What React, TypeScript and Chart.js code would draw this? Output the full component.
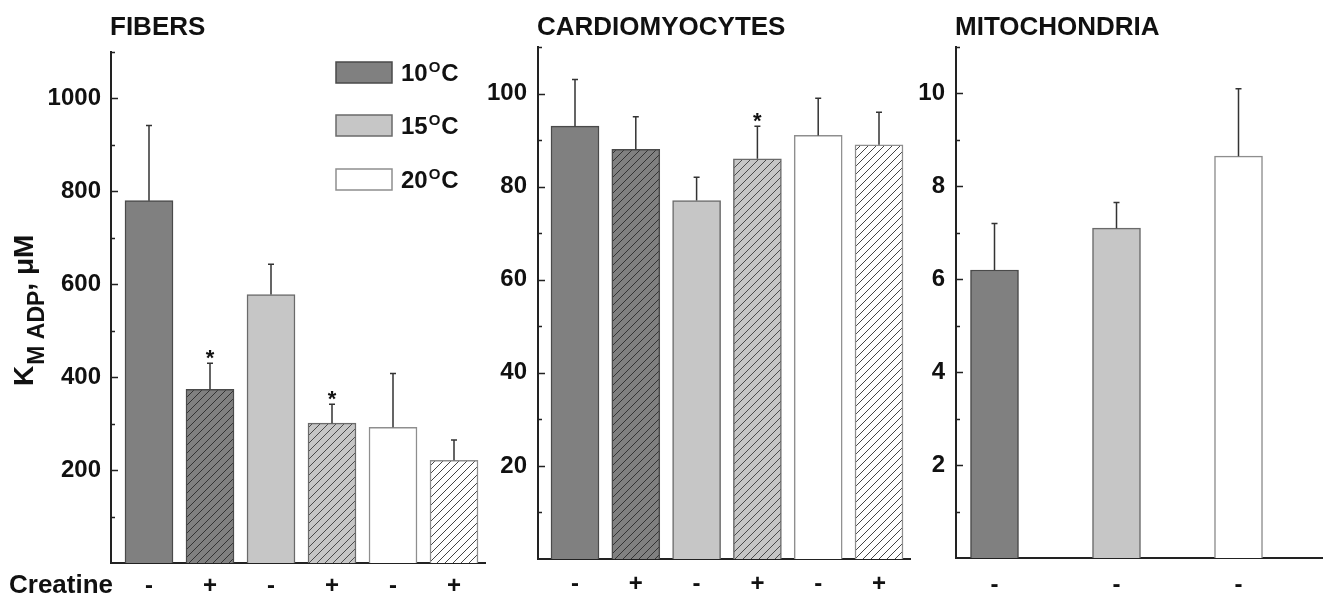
import React, { useEffect, useRef } from 'react';
import { Chart, registerables } from 'chart.js';

Chart.register(...registerables);

const FONT = "'Liberation Sans', Arial, Helvetica, sans-serif";
const INK = '#111111';

// ---------- DATA ----------
// Panel 1: fibers
const fibersCreatine = ['-', '+', '-', '+', '-', '+'];
const fibersTemps = ['10', '10', '15', '15', '20', '20'];
const fibersValues = [780, 374, 578, 301, 292, 221];
const fibersErrors = [162, 56, 65, 41, 116, 44];
const fibersStars = [false, true, false, true, false, false];
const fibersYTicks = [200, 400, 600, 800, 1000];

// Panel 2: cardiomyocytes
const cardioCreatine = ['-', '+', '-', '+', '-', '+'];
const cardioTemps = ['10', '10', '15', '15', '20', '20'];
const cardioValues = [93, 88, 77, 86, 91, 89];
const cardioErrors = [10, 7, 5, 7, 8, 7];
const cardioStars = [false, false, false, true, false, false];
const cardioYTicks = [20, 40, 60, 80, 100];

// Panel 3: mitochondria
const mitoCreatine = ['-', '-', '-'];
const mitoTemps = ['10', '15', '20'];
const mitoValues = [6.2, 7.1, 8.65];
const mitoErrors = [1.0, 0.55, 1.45];
const mitoStars = [false, false, false];
const mitoYTicks = [2, 4, 6, 8, 10];

// Legend
const legendTemps = ['10', '15', '20'];

// ---------- STYLE ----------
const baseFill: Record<string, string> = { '10': '#808080', '15': '#c6c6c6', '20': '#ffffff' };
const baseBorder: Record<string, string> = { '10': '#4a4a4a', '15': '#6a6a6a', '20': '#8e8e8e' };
const hatchLine: Record<string, string> = { '10': '#333333', '15': '#4a4a4a', '20': '#444444' };

function makeHatch(bg: string, line: string): CanvasPattern | string {
  const s = 8;
  const c = document.createElement('canvas');
  c.width = s;
  c.height = s;
  const g = c.getContext('2d');
  if (!g) return bg;
  g.fillStyle = bg;
  g.fillRect(0, 0, s, s);
  g.strokeStyle = line;
  g.lineWidth = 1;
  g.beginPath();
  g.moveTo(-1, s + 1);
  g.lineTo(s + 1, -1);
  g.moveTo(-1, 1);
  g.lineTo(1, -1);
  g.moveTo(s - 1, s + 1);
  g.lineTo(s + 1, s - 1);
  g.stroke();
  return g.createPattern(c, 'repeat') || bg;
}

type Layout = {
  canvasLeft: number;
  canvasWidth: number;
  yAxisWidth: number;
  top: number;
  xAxisHeight: number;
  padRight: number;
  xMin: number;
  xMax: number;
  xTickPad: number;
  yTickPad: number;
};

type PanelProps = {
  title: string;
  labels: string[];
  temps: string[];
  values: number[];
  errors: number[];
  stars: boolean[];
  yMax: number;
  yStep: number;
  yTicks: number[];
  layout: Layout;
  extras?: boolean;
};

function drawExtras(ctx: CanvasRenderingContext2D) {
  // Legend
  const boxX = 336;
  const boxW = 56;
  const boxH = 21;
  const rowTops = [62, 115, 169];
  legendTemps.forEach((t, i) => {
    const y = rowTops[i];
    ctx.fillStyle = baseFill[t];
    ctx.fillRect(boxX, y, boxW, boxH);
    ctx.strokeStyle = baseBorder[t];
    ctx.lineWidth = 1.5;
    ctx.strokeRect(boxX, y, boxW, boxH);
    const cy = y + boxH / 2;
    ctx.fillStyle = INK;
    ctx.textAlign = 'left';
    ctx.textBaseline = 'alphabetic';
    let x = 401;
    ctx.font = `bold 24px ${FONT}`;
    ctx.fillText(t, x, cy + 8.5);
    x += ctx.measureText(t).width + 1;
    ctx.font = `bold 15px ${FONT}`;
    ctx.fillText('O', x, cy - 1);
    x += ctx.measureText('O').width + 1;
    ctx.font = `bold 24px ${FONT}`;
    ctx.fillText('C', x, cy + 8.5);
  });

  // Y axis title: K_M ADP, μM (rotated)
  ctx.save();
  ctx.translate(33, 386);
  ctx.rotate(-Math.PI / 2);
  ctx.fillStyle = INK;
  ctx.textAlign = 'left';
  ctx.textBaseline = 'alphabetic';
  ctx.font = `bold 28px ${FONT}`;
  ctx.fillText('K', 0, 0);
  let px = ctx.measureText('K').width + 1;
  ctx.font = `bold 23px ${FONT}`;
  ctx.fillText('M ADP', px, 11);
  px += ctx.measureText('M ADP').width;
  ctx.font = `bold 28px ${FONT}`;
  ctx.fillText(', \u03bcM', px, 0);
  ctx.restore();

  // Creatine label
  ctx.fillStyle = INK;
  ctx.font = `bold 26px ${FONT}`;
  ctx.textAlign = 'left';
  ctx.textBaseline = 'alphabetic';
  ctx.fillText('Creatine', 9, 593);
}

function Panel(props: PanelProps) {
  const ref = useRef<HTMLCanvasElement | null>(null);
  useEffect(() => {
    const canvas = ref.current;
    if (!canvas) return;
    const { labels, temps, values, errors, stars, yMax, yStep, yTicks, layout, title, extras } = props;
    const fills = temps.map((t, i) =>
      labels[i] === '+' ? makeHatch(baseFill[t], hatchLine[t]) : baseFill[t]
    );
    const borders = temps.map((t) => baseBorder[t]);

    const decor = {
      id: 'decor',
      afterDatasetsDraw(chart: any) {
        const ctx: CanvasRenderingContext2D = chart.ctx;
        const xs = chart.scales.x;
        const ys = chart.scales.y;
        const area = chart.chartArea;
        ctx.save();
        // error bars + stars
        values.forEach((v, i) => {
          const x = xs.getPixelForValue(i);
          const y0 = ys.getPixelForValue(v);
          const y1 = ys.getPixelForValue(v + errors[i]);
          ctx.strokeStyle = '#333333';
          ctx.lineWidth = 1.5;
          ctx.beginPath();
          ctx.moveTo(x, y0);
          ctx.lineTo(x, y1);
          ctx.moveTo(x - 3, y1);
          ctx.lineTo(x + 3, y1);
          ctx.stroke();
          if (stars[i]) {
            ctx.fillStyle = INK;
            ctx.font = `bold 22px ${FONT}`;
            ctx.textAlign = 'center';
            ctx.textBaseline = 'alphabetic';
            ctx.fillText('*', x, y1 + 2);
          }
        });
        // inward y ticks
        ctx.strokeStyle = '#222222';
        ctx.lineWidth = 1.5;
        ctx.beginPath();
        yTicks.forEach((t) => {
          const y = Math.round(ys.getPixelForValue(t)) + 0.5;
          ctx.moveTo(area.left, y);
          ctx.lineTo(area.left + 7, y);
        });
        for (let m = yStep / 2; m <= yMax + 1e-9; m += yStep) {
          const y = Math.round(ys.getPixelForValue(m)) + 0.5;
          ctx.moveTo(area.left, y);
          ctx.lineTo(area.left + 4, y);
        }
        ctx.stroke();
        // title
        ctx.fillStyle = INK;
        ctx.font = `bold 26px ${FONT}`;
        ctx.textAlign = 'left';
        ctx.textBaseline = 'alphabetic';
        ctx.fillText(title, area.left - 1, 35);
        if (extras) drawExtras(ctx);
        ctx.restore();
      },
    };

    const chart = new Chart(canvas, {
      type: 'bar',
      data: {
        datasets: [
          {
            data: values.map((v, i) => ({ x: i, y: v })),
            backgroundColor: fills as any,
            borderColor: borders,
            borderWidth: 1.5,
            barThickness: 48,
            borderSkipped: 'bottom',
          } as any,
        ],
      },
      options: {
        animation: false,
        responsive: false,
        events: [],
        layout: { padding: { top: layout.top, right: layout.padRight, left: 0, bottom: 0 } },
        plugins: {
          legend: { display: false },
          tooltip: { enabled: false },
          title: { display: false },
        },
        scales: {
          x: {
            type: 'linear',
            offset: false,
            min: layout.xMin,
            max: layout.xMax,
            grid: { display: false, drawTicks: false },
            border: { display: true, color: '#222222', width: 2 },
            afterBuildTicks: (s: any) => {
              s.ticks = labels.map((_, i) => ({ value: i }));
            },
            afterFit: (s: any) => {
              s.height = layout.xAxisHeight;
            },
            ticks: {
              autoSkip: false,
              maxRotation: 0,
              padding: layout.xTickPad,
              color: INK,
              font: { family: FONT, size: 24, weight: 'bold' },
              callback: (v: any) => labels[Math.round(Number(v))] ?? '',
            },
          } as any,
          y: {
            type: 'linear',
            min: 0,
            max: yMax,
            grid: { display: false, drawTicks: false },
            border: { display: true, color: '#222222', width: 2 },
            afterBuildTicks: (s: any) => {
              s.ticks = yTicks.map((v) => ({ value: v }));
            },
            afterFit: (s: any) => {
              s.width = layout.yAxisWidth;
            },
            ticks: {
              padding: layout.yTickPad,
              color: INK,
              font: { family: FONT, size: 24, weight: 'bold' },
              callback: (v: any) => String(v),
            },
          } as any,
        },
      },
      plugins: [decor],
    });
    return () => chart.destroy();
  }, []);

  return (
    <canvas
      ref={ref}
      width={props.layout.canvasWidth}
      height={596}
      style={{ position: 'absolute', left: props.layout.canvasLeft, top: 0 }}
    />
  );
}

const fibersLayout: Layout = {
  canvasLeft: 0,
  canvasWidth: 500,
  yAxisWidth: 111,
  top: 52,
  xAxisHeight: 33,
  padRight: 15,
  xMin: (111 - 149) / 61,
  xMax: (485 - 149) / 61,
  xTickPad: 9,
  yTickPad: 10,
};

const cardioLayout: Layout = {
  canvasLeft: 470,
  canvasWidth: 450,
  yAxisWidth: 68,
  top: 47,
  xAxisHeight: 37,
  padRight: 10,
  xMin: (538 - 575) / 60.8,
  xMax: (910 - 575) / 60.8,
  xTickPad: 11,
  yTickPad: 11,
};

const mitoLayout: Layout = {
  canvasLeft: 900,
  canvasWidth: 423,
  yAxisWidth: 56,
  top: 47,
  xAxisHeight: 38,
  padRight: 0,
  xMin: (956 - 994.5) / 122,
  xMax: (1323 - 994.5) / 122,
  xTickPad: 13,
  yTickPad: 11,
};

export default function App() {
  return (
    <div
      style={{
        position: 'absolute',
        left: 0,
        top: 0,
        width: 1323,
        height: 596,
        background: '#ffffff',
        overflow: 'hidden',
      }}
    >
      <Panel
        title="FIBERS"
        labels={fibersCreatine}
        temps={fibersTemps}
        values={fibersValues}
        errors={fibersErrors}
        stars={fibersStars}
        yMax={1100}
        yStep={200}
        yTicks={fibersYTicks}
        layout={fibersLayout}
        extras
      />
      <Panel
        title="CARDIOMYOCYTES"
        labels={cardioCreatine}
        temps={cardioTemps}
        values={cardioValues}
        errors={cardioErrors}
        stars={cardioStars}
        yMax={110}
        yStep={20}
        yTicks={cardioYTicks}
        layout={cardioLayout}
      />
      <Panel
        title="MITOCHONDRIA"
        labels={mitoCreatine}
        temps={mitoTemps}
        values={mitoValues}
        errors={mitoErrors}
        stars={mitoStars}
        yMax={11}
        yStep={2}
        yTicks={mitoYTicks}
        layout={mitoLayout}
      />
    </div>
  );
}
